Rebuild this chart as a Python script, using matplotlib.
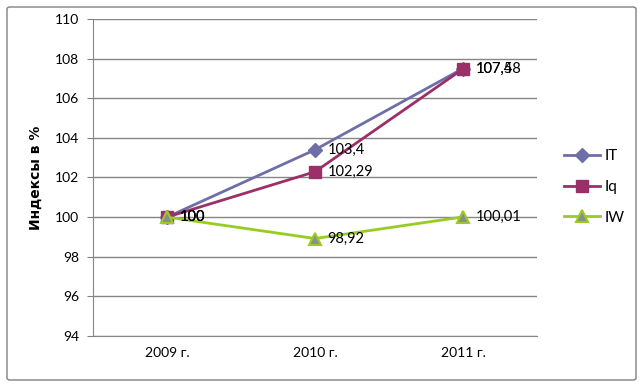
import matplotlib.pyplot as plt
from matplotlib.patches import FancyBboxPatch

plt.rcParams['font.family'] = ['Lato', 'DejaVu Sans']

years = ['2009 г.', '2010 г.', '2011 г.']
it_vals = [100, 103.4, 107.5]
iq_vals = [100, 102.29, 107.48]
iw_vals = [100, 98.92, 100.01]
it_labels = ['100', '103,4', '107,5']
iq_labels = ['100', '102,29', '107,48']
iw_labels = ['100', '98,92', '100,01']

fig = plt.figure(figsize=(6.42, 3.85), dpi=100)
ax = fig.add_axes([93 / 642, 1 - 336 / 385, 444 / 642, 317 / 385])

# outer chart border
fig.patches.append(FancyBboxPatch((7 / 642, 5 / 385), 629 / 642, 373 / 385,
                                  boxstyle='round,pad=0,rounding_size=0.005',
                                  transform=fig.transFigure, fill=False,
                                  edgecolor='#808080', linewidth=1))

x = range(len(years))
c_it = '#6E6EA8'
c_iq = '#9B2F68'
c_iw = '#99CC22'

ax.plot(x, it_vals, color=c_it, lw=2, marker='D', ms=7, mfc=c_it, mec=c_it, label='IT', zorder=3)
ax.plot(x, iq_vals, color=c_iq, lw=2, marker='s', ms=8, mfc=c_iq, mec=c_iq, label='Iq', zorder=4)
ax.plot(x, iw_vals, color=c_iw, lw=2, marker='^', ms=9, mfc='#8C8C8C', mec=c_iw, mew=1.5, label='IW', zorder=5)

for vals, labs in [(it_vals, it_labels), (iq_vals, iq_labels), (iw_vals, iw_labels)]:
    for xi, v, t in zip(x, vals, labs):
        ax.annotate(t, (xi, v), xytext=(9, 0), textcoords='offset points',
                    va='center', ha='left', fontsize=10.5, color='black', zorder=6)

ax.set_xlim(-0.5, 2.5)
ax.set_ylim(94, 110)
ax.set_yticks(range(94, 111, 2))
ax.set_xticks(list(x))
ax.set_xticklabels(years)
ax.tick_params(axis='both', labelsize=10, colors='black', length=0, pad=8)
ax.tick_params(axis='y', length=4, color='#808080', pad=6)
ax.grid(axis='y', color='#868686', lw=1)
ax.set_axisbelow(True)
for s in ['top', 'right']:
    ax.spines[s].set_visible(False)
for s in ['left', 'bottom']:
    ax.spines[s].set_color('#868686')
ax.set_ylabel('Индексы в %', fontsize=10, fontweight='bold',
              family='DejaVu Sans', labelpad=9)

fig.legend(loc='center left', bbox_to_anchor=(550 / 642, 1 - 187 / 385),
           frameon=False, fontsize=11, handlelength=2.4, labelspacing=1.1,
           handletextpad=0.3)

fig.savefig('out.png', dpi=100)
